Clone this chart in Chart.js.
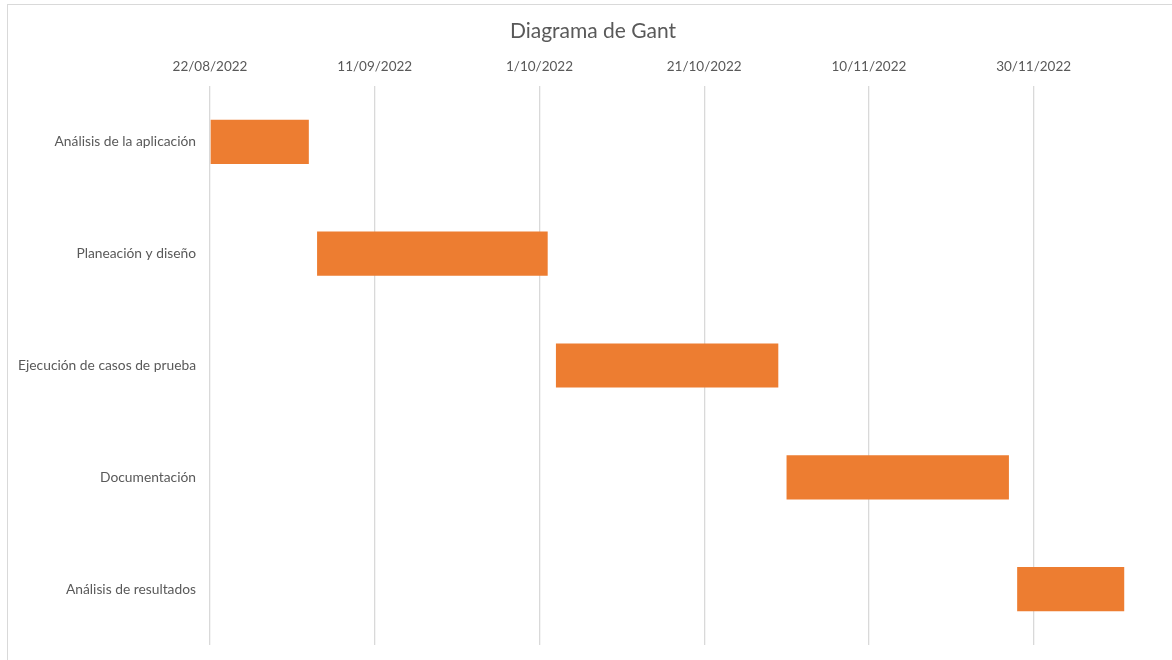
<!DOCTYPE html>
<html>
<head>
<meta charset="utf-8">
<script src="https://cdn.jsdelivr.net/npm/chart.js@4/dist/chart.umd.min.js"></script>
<style>
  html, body { margin: 0; padding: 0; background: #fff; overflow: hidden; }
  #wrap { position: relative; width: 1172px; height: 660px; }
  #frame { position: absolute; left: 7px; top: 4px; width: 1200px; height: 700px; border: 1px solid #d9d9d9; box-sizing: border-box; pointer-events: none; }
  canvas { position: absolute; left: 0; top: 0; }
</style>
</head>
<body>
<div id="wrap">
  <div id="frame"></div>
  <canvas id="chart" width="1172" height="660"></canvas>
</div>
<script>
// Gantt data: start date + duration in days
const tasks = ['Análisis de la aplicación', 'Planeación y diseño', 'Ejecución de casos de prueba', 'Documentación', 'Análisis de resultados'];
const startDates = ['2022-08-22', '2022-09-04', '2022-10-03', '2022-10-31', '2022-11-28'];
const durations = [12, 28, 27, 27, 13];

const AXIS_START = '2022-08-22';
const AXIS_DAYS = 116.8;
const TICK_STEP = 20;

const DAY = 86400000;
const t0 = Date.parse(AXIS_START);
const dayOf = s => Math.round((Date.parse(s) - t0) / DAY);

function fmtDate(offset) {
  const d = new Date(t0 + offset * DAY);
  const mm = String(d.getUTCMonth() + 1).padStart(2, '0');
  return d.getUTCDate() + '/' + mm + '/' + d.getUTCFullYear();
}

const TEXT = '#595959';
const FONT = "Lato, 'Open Sans', sans-serif";

new Chart(document.getElementById('chart'), {
  type: 'bar',
  data: {
    labels: tasks,
    datasets: [{
      data: startDates.map((s, i) => [dayOf(s), dayOf(s) + durations[i]]),
      backgroundColor: '#ED7D31',
      borderWidth: 0,
      borderSkipped: false,
      barPercentage: 0.395,
      categoryPercentage: 1,
    }],
  },
  options: {
    indexAxis: 'y',
    responsive: false,
    animation: false,
    layout: { padding: { left: 14, right: 0, top: 0, bottom: 15 } },
    plugins: {
      legend: { display: false },
      tooltip: { enabled: false },
      title: {
        display: true,
        text: 'Diagrama de Gant',
        color: TEXT,
        font: { family: FONT, size: 21, weight: 'normal' },
        padding: { top: 19, bottom: 0 },
      },
    },
    scales: {
      x: {
        position: 'top',
        min: 0,
        max: AXIS_DAYS,
        afterBuildTicks: scale => { scale.ticks = scale.ticks.filter(t => t.value % TICK_STEP === 0); },
        afterFit: scale => { scale.height = 41.8; },
        grid: { color: '#d9d9d9', lineWidth: 1.3, drawTicks: false },
        border: { display: false },
        ticks: {
          stepSize: TICK_STEP,
          color: TEXT,
          font: { family: FONT, size: 13.5 },
          padding: 11,
          maxRotation: 0,
          callback: v => fmtDate(v),
        },
      },
      y: {
        // fixed label column; drop the label-height padding Chart.js adds top/bottom
        afterFit: scale => { scale.width = 196; scale.paddingTop = 0; scale.paddingBottom = 0; },
        grid: { display: false, drawTicks: false },
        border: { display: false },
        ticks: {
          color: TEXT,
          font: { family: FONT, size: 13.8 },
          padding: 14,
        },
      },
    },
  },
});
</script>
</body>
</html>
